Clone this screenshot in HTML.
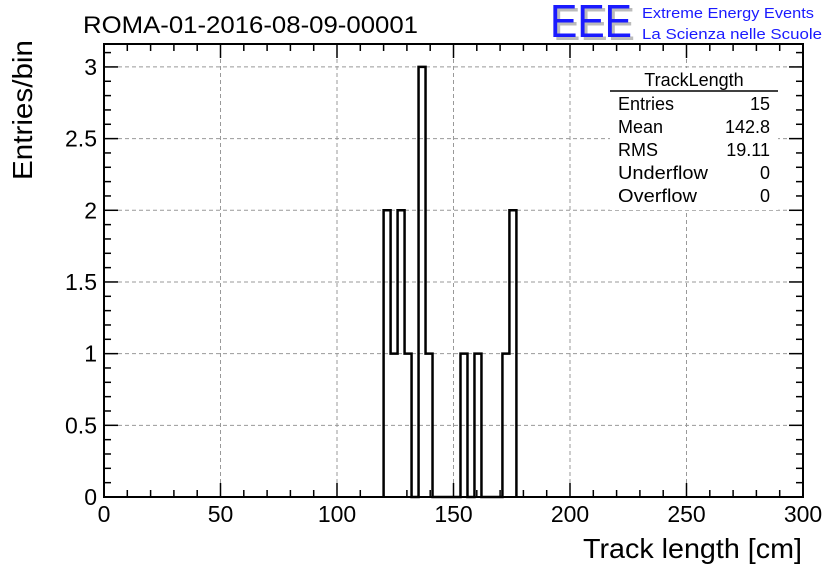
<!DOCTYPE html>
<html><head><meta charset="utf-8"><style>
body{margin:0;background:#fff;}
svg text{font-family:"Liberation Sans",sans-serif;}
</style></head><body>
<svg id="c" width="836" height="572" xmlns="http://www.w3.org/2000/svg">
<rect width="836" height="572" fill="#fff"/>
<g id="grid"></g>
<g id="ticks"></g>
<g id="hist"></g>
<rect x="104" y="44" width="699" height="453" fill="none" stroke="#000" stroke-width="2"/>
<g id="labels"></g>
<text x="83" y="33" font-size="24" textLength="335" lengthAdjust="spacingAndGlyphs">ROMA-01-2016-08-09-00001</text>
<text x="553" y="40" font-size="46" fill="#bbb" textLength="82" lengthAdjust="spacingAndGlyphs">EEE</text>
<text x="550" y="37" font-size="46" fill="#1a1aff" textLength="82" lengthAdjust="spacingAndGlyphs">EEE</text>
<text x="642" y="18" font-size="15" fill="#1a1aff" textLength="172" lengthAdjust="spacingAndGlyphs">Extreme Energy Events</text>
<text x="642" y="39" font-size="15" fill="#1a1aff" textLength="180" lengthAdjust="spacingAndGlyphs">La Scienza nelle Scuole</text>
<text x="802" y="558" font-size="28" text-anchor="end" textLength="219" lengthAdjust="spacingAndGlyphs">Track length [cm]</text>
<text transform="translate(32,180) rotate(-90)" font-size="28" textLength="140" lengthAdjust="spacingAndGlyphs">Entries/bin</text>
<g font-size="18">
<rect x="610" y="68" width="168" height="142" fill="#fff"/>
<text x="694" y="86" text-anchor="middle">TrackLength</text>
<line x1="610" y1="91" x2="778" y2="91" stroke="#000" stroke-width="1.5"/>
<text x="618" y="110">Entries</text><text x="770" y="110" text-anchor="end">15</text>
<text x="618" y="133">Mean</text><text x="770" y="133" text-anchor="end">142.8</text>
<text x="618" y="156">RMS</text><text x="770" y="156" text-anchor="end">19.11</text>
<text x="618" y="179" textLength="90" lengthAdjust="spacingAndGlyphs">Underflow</text><text x="770" y="179" text-anchor="end">0</text>
<text x="618" y="202" textLength="79" lengthAdjust="spacingAndGlyphs">Overflow</text><text x="770" y="202" text-anchor="end">0</text>
</g>
</svg>
<script>
const binStarts=[120,123,126,129,132,135,138,141,144,147,150,153,156,159,162,165,168,171,174];
const counts=[2,1,2,1,0,3,1,0,0,0,0,1,0,1,0,0,0,1,2];
const binWidth=3;
const xTicks=[0,50,100,150,200,250,300];
const yTicks=[0,0.5,1,1.5,2,2.5,3];
const yTickLabels=["0","0.5","1","1.5","2","2.5","3"];
const X0=104,X1=803,Y0=497,Y1=44,XMAX=300,YMAX=3.16;
const xs=v=>X0+(X1-X0)*v/XMAX;
const ys=v=>Y0-(Y0-Y1)*v/YMAX;
const NS="http://www.w3.org/2000/svg";
function mk(tag,parent,attrs){const e=document.createElementNS(NS,tag);for(const k in attrs)e.setAttribute(k,attrs[k]);document.getElementById(parent).appendChild(e);return e;}
const dash={stroke:"#999","stroke-width":1,"stroke-dasharray":"4,3"};
xTicks.forEach(t=>{if(t>0&&t<XMAX){const l=mk("line","grid",Object.assign({x1:xs(t),x2:xs(t),y1:Y0,y2:Y1},dash));

}});
yTicks.forEach(t=>{if(t>0){const l=mk("line","grid",Object.assign({x1:X0,x2:X1,y1:ys(t),y2:ys(t)},dash));

}});
for(let v=0;v<=XMAX;v+=10){const L=(v%50===0)?14:7;
mk("line","ticks",{x1:xs(v),x2:xs(v),y1:Y0,y2:Y0-L,stroke:"#000","stroke-width":1.5});
mk("line","ticks",{x1:xs(v),x2:xs(v),y1:Y1,y2:Y1+L,stroke:"#000","stroke-width":1.5});}
for(let i=0;i<=31;i++){const v=i/10;const L=(i%5===0)?14:7;
mk("line","ticks",{x1:X0,x2:X0+L,y1:ys(v),y2:ys(v),stroke:"#000","stroke-width":1.5});
mk("line","ticks",{x1:X1,x2:X1-L,y1:ys(v),y2:ys(v),stroke:"#000","stroke-width":1.5});}
xTicks.forEach(t=>{const e=mk("text","labels",{x:xs(t),y:522,"font-size":23,"text-anchor":"middle"});e.textContent=String(t);

});
yTicks.forEach((t,i)=>{const e=mk("text","labels",{x:97,y:ys(t)+8,"font-size":23,"text-anchor":"end"});e.textContent=yTickLabels[i];

});
let d="M"+xs(binStarts[0])+","+ys(0);
binStarts.forEach((b,i)=>{d+=" L"+xs(b)+","+ys(counts[i])+" L"+xs(b+binWidth)+","+ys(counts[i]);});
d+=" L"+xs(binStarts[binStarts.length-1]+binWidth)+","+ys(0);
const p=mk("path","hist",{d:d,fill:"none",stroke:"#000","stroke-width":2.5});


</script>
</body></html>
